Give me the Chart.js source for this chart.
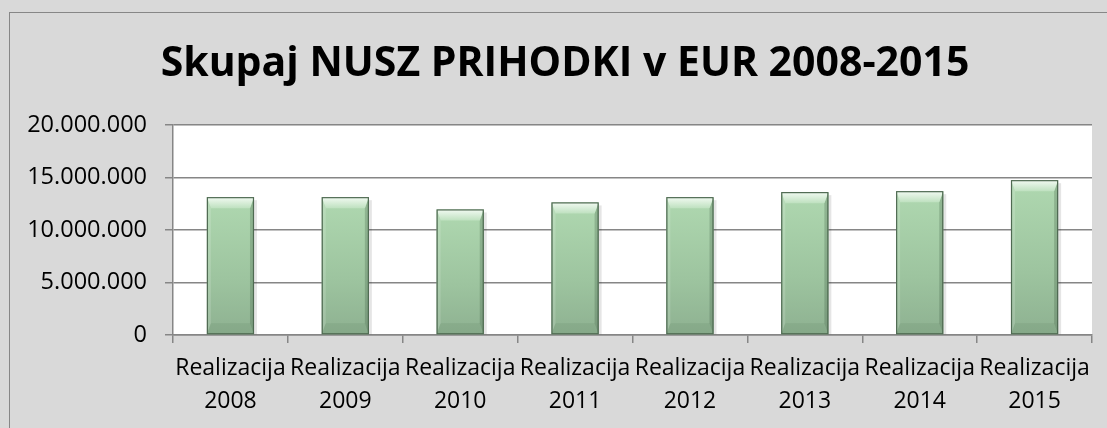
<!DOCTYPE html>
<html>
<head>
<meta charset="utf-8">
<script src="https://cdn.jsdelivr.net/npm/chart.js@4/dist/chart.umd.min.js"></script>
<style>
  html, body { margin: 0; padding: 0; background: #d9d9d9; }
  #wrap { position: relative; width: 1107px; height: 428px; overflow: hidden; }
  #frame { position: absolute; left: 9px; top: 12px; width: 1200px; height: 600px; border: 1px solid #878787; box-sizing: border-box; pointer-events: none; }
  canvas { position: absolute; left: 0; top: 0; }
</style>
</head>
<body>
<div id="wrap">
  <canvas id="c" width="1107" height="428"></canvas>
  <div id="frame"></div>
</div>
<script>
const titleText = 'Skupaj NUSZ PRIHODKI v EUR 2008-2015';
const categories = [
  ['Realizacija', '2008'], ['Realizacija', '2009'], ['Realizacija', '2010'], ['Realizacija', '2011'],
  ['Realizacija', '2012'], ['Realizacija', '2013'], ['Realizacija', '2014'], ['Realizacija', '2015']
];
const prihodki = [13140000, 13140000, 11970000, 12640000, 13140000, 13620000, 13710000, 14760000];
const yTicks = [0, 5000000, 10000000, 15000000, 20000000];

function fmt(v) {
  return String(Math.round(v)).replace(/\B(?=(\d{3})+(?!\d))/g, '.');
}

const plotBg = {
  id: 'plotBg',
  beforeDraw(chart) {
    const { ctx, chartArea: a } = chart;
    ctx.save();
    ctx.fillStyle = '#ffffff';
    ctx.fillRect(a.left, a.top, a.right - a.left, a.bottom - a.top);
    ctx.restore();
  }
};

// shift the title block so the title is centred a little right of the canvas centre, as in the original
const titleShift = {
  id: 'titleShift',
  afterLayout(chart) {
    if (chart.titleBlock) { chart.titleBlock.left += 29; }
  }
};

const bevel = {
  id: 'bevel',
  afterDatasetsDraw(chart) {
    const ctx = chart.ctx;
    const meta = chart.getDatasetMeta(0);
    meta.data.forEach(bar => {
      const p = bar.getProps(['x', 'y', 'base', 'width'], true);
      const l = p.x - p.width / 2, r = p.x + p.width / 2, t = p.y, b = p.base;
      const d = 11, s = 4;
      ctx.save();
      ctx.fillStyle = 'rgba(0,0,0,0.10)';
      ctx.fillRect(r, t + 3, 3, b - t - 3);
      let g = ctx.createLinearGradient(0, t, 0, b);
      g.addColorStop(0, '#afd8b0');
      g.addColorStop(0.6, '#9dc49f');
      g.addColorStop(1, '#8eb191');
      ctx.fillStyle = g;
      ctx.fillRect(l, t, r - l, b - t);
      ctx.fillStyle = 'rgba(255,255,255,0.15)';
      ctx.beginPath(); ctx.moveTo(l, t); ctx.lineTo(l + s, t + d); ctx.lineTo(l + s, b - d); ctx.lineTo(l, b); ctx.closePath(); ctx.fill();
      ctx.fillStyle = 'rgba(40,70,45,0.22)';
      ctx.beginPath(); ctx.moveTo(r, t); ctx.lineTo(r - s, t + d); ctx.lineTo(r - s, b - d); ctx.lineTo(r, b); ctx.closePath(); ctx.fill();
      g = ctx.createLinearGradient(0, t, 0, t + d);
      g.addColorStop(0, '#f2faf2');
      g.addColorStop(1, '#bfe1c0');
      ctx.fillStyle = g;
      ctx.beginPath(); ctx.moveTo(l, t); ctx.lineTo(r, t); ctx.lineTo(r - s, t + d); ctx.lineTo(l + s, t + d); ctx.closePath(); ctx.fill();
      ctx.fillStyle = 'rgba(70,105,75,0.12)';
      ctx.beginPath(); ctx.moveTo(l, b); ctx.lineTo(r, b); ctx.lineTo(r - s, b - d); ctx.lineTo(l + s, b - d); ctx.closePath(); ctx.fill();
      ctx.strokeStyle = '#4f6a52';
      ctx.lineWidth = 1.2;
      ctx.strokeRect(l + 0.5, t + 0.5, r - l - 1, b - t - 1);
      ctx.restore();
    });
  }
};

new Chart(document.getElementById('c'), {
  type: 'bar',
  data: {
    labels: categories,
    datasets: [{
      label: 'Prihodki',
      data: prihodki,
      backgroundColor: '#a3cba5',
      borderColor: '#4f6a52',
      borderWidth: 1,
      barPercentage: 0.41,
      categoryPercentage: 1.0
    }]
  },
  options: {
    responsive: false,
    animation: false,
    devicePixelRatio: 1,
    layout: { padding: { left: 9, right: 15, top: 0, bottom: 0 } },
    plugins: {
      legend: { display: false },
      tooltip: { enabled: false },
      title: {
        display: true,
        text: titleText,
        color: '#000000',
        font: { family: 'Open Sans', size: 41, weight: 'bold', lineHeight: 1.2 },
        padding: { top: 40, bottom: 36 }
      }
    },
    scales: {
      x: {
        grid: { display: true, drawOnChartArea: false, drawTicks: true, tickLength: 8, color: '#868686', lineWidth: 1.5, offset: true },
        border: { display: true, color: '#868686', width: 1.5 },
        ticks: {
          color: '#000000',
          font: { family: 'Open Sans', size: 23, lineHeight: 1.42 },
          padding: 9,
          maxRotation: 0,
          autoSkip: false
        },
        afterFit(scale) { scale.height = 428 - 335; }
      },
      y: {
        min: 0,
        max: 20000000,
        afterBuildTicks(scale) { scale.ticks = yTicks.map(v => ({ value: v })); },
        grid: { color: '#868686', lineWidth: 1.5, tickLength: 8, drawTicks: true },
        border: { display: true, color: '#868686', width: 1.5 },
        ticks: {
          color: '#000000',
          font: { family: 'Open Sans', size: 23.5 },
          padding: 18,
          callback: v => fmt(v)
        },
        afterFit(scale) { scale.width = 173 - 9; }
      }
    }
  },
  plugins: [plotBg, titleShift, bevel]
});
</script>
</body>
</html>
